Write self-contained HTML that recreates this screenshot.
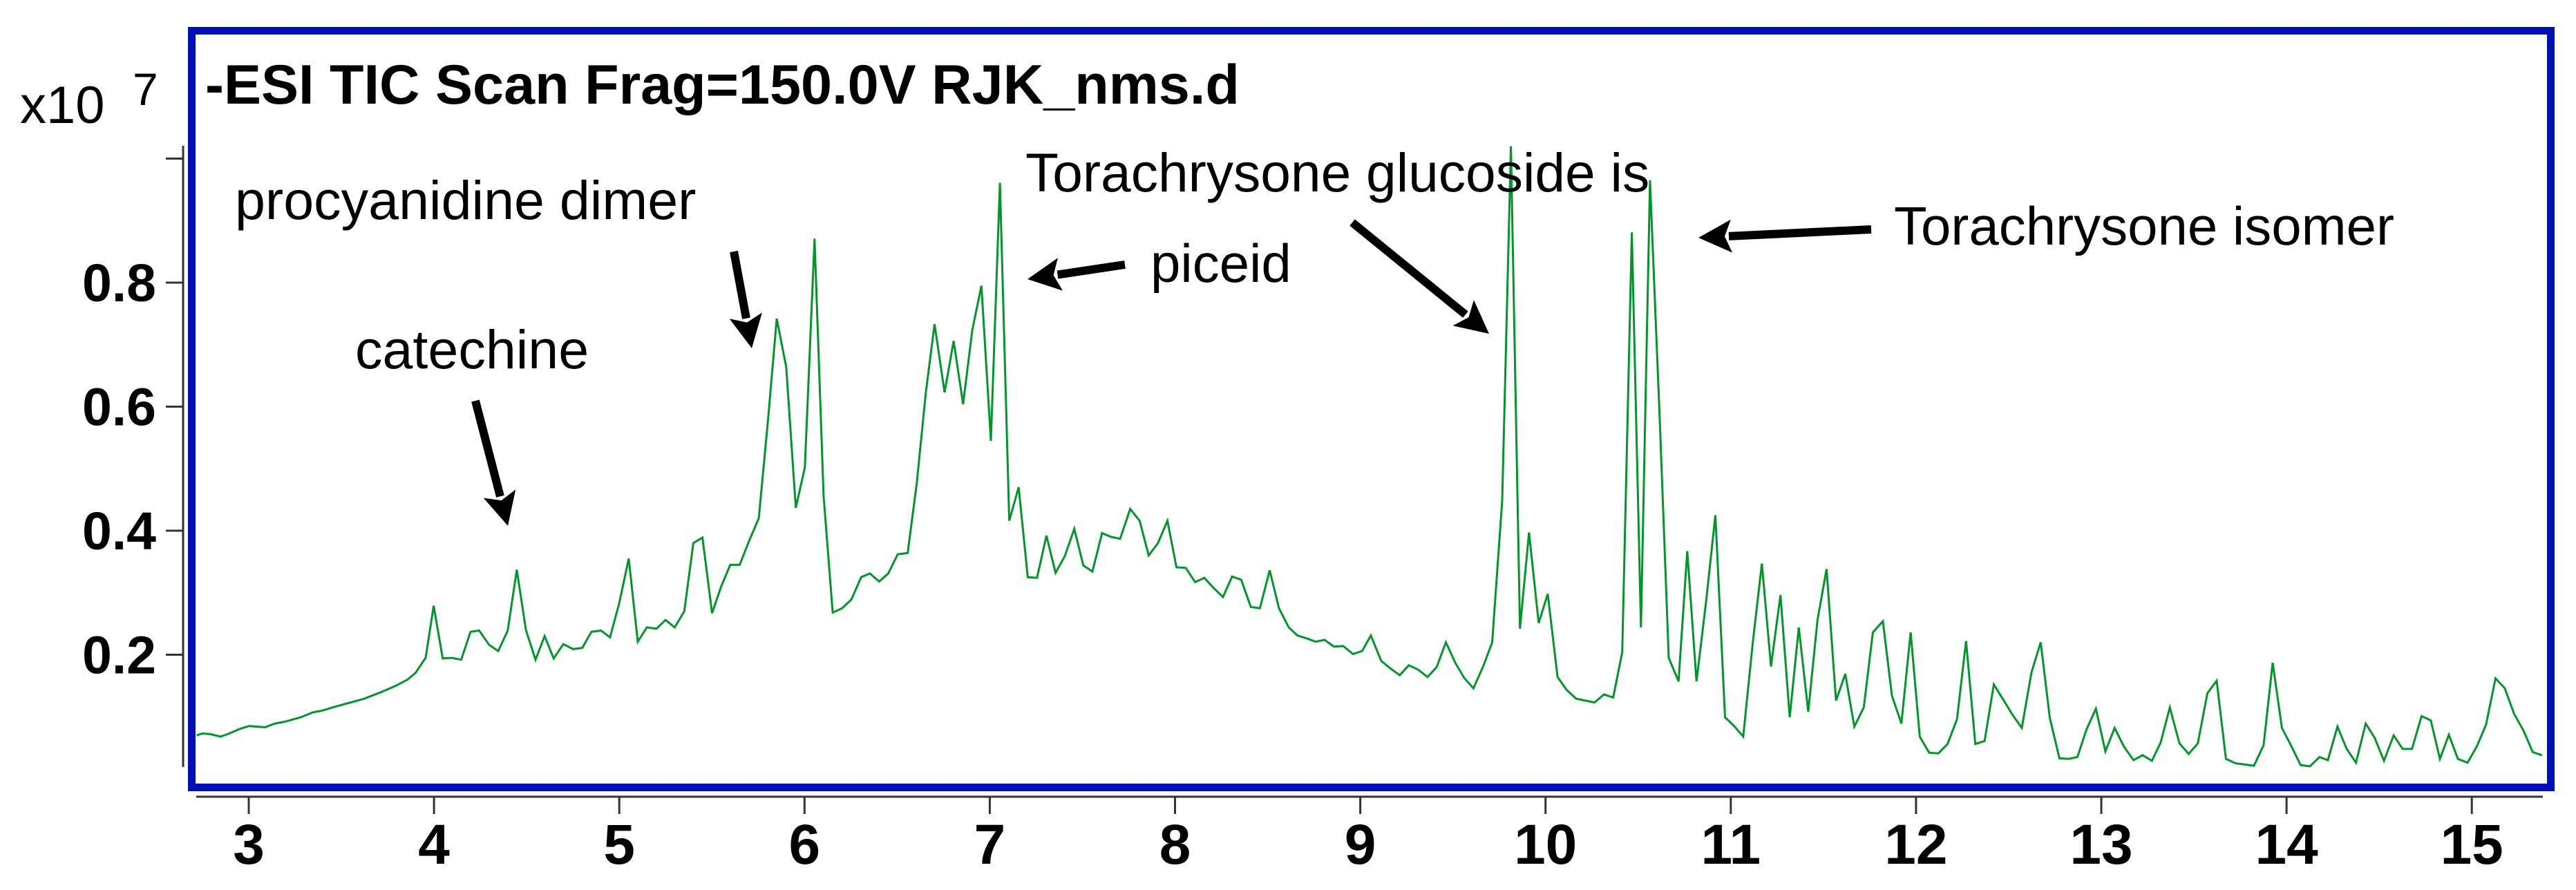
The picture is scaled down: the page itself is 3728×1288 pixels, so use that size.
<!DOCTYPE html>
<html><head><meta charset="utf-8"><style>
html,body{margin:0;padding:0;background:#fff;}
svg{display:block;}
text{font-family:"Liberation Sans",Arial,sans-serif;fill:#000;}
</style></head><body>
<svg id="chart" width="3728" height="1288" viewBox="0 0 3728 1288" xmlns="http://www.w3.org/2000/svg">
<rect x="0" y="0" width="3728" height="1288" fill="#fff"/>
<rect x="277.5" y="44.5" width="3414" height="1095" fill="none" stroke="#0010b4" stroke-width="11"/>
<g id="axes"></g>
<g id="trace"></g>
<text x="29" y="178" font-size="76">x10</text>
<text x="192" y="152" font-size="66">7</text>
<text x="297" y="150" font-size="81" font-weight="bold">-ESI TIC Scan Frag=150.0V RJK_nms.d</text>
<text x="340" y="317" font-size="79">procyanidine dimer</text>
<text x="514" y="533" font-size="79">catechine</text>
<text x="1665" y="408" font-size="78">piceid</text>
<text x="1484" y="277" font-size="78.5">Torachrysone glucoside is</text>
<text x="2741" y="354" font-size="78">Torachrysone isomer</text>
<g id="arrows"></g>
</svg>
<script>
const times = [2.719,2.749,2.792,2.848,2.895,2.948,3.002,3.088,3.141,3.195,3.280,3.345,3.398,3.452,3.537,3.623,3.709,3.794,3.858,3.901,3.955,3.998,4.047,4.094,4.147,4.197,4.244,4.297,4.347,4.398,4.447,4.496,4.548,4.597,4.646,4.698,4.751,4.800,4.850,4.901,4.950,4.999,5.051,5.100,5.149,5.201,5.250,5.299,5.351,5.400,5.449,5.501,5.550,5.599,5.650,5.700,5.753,5.802,
5.850,5.901,5.953,6.002,6.054,6.103,6.152,6.203,6.253,6.306,6.353,6.403,6.452,6.503,6.557,6.606,6.655,6.702,6.756,6.805,6.856,6.906,6.955,7.006,7.055,7.105,7.156,7.205,7.255,7.306,7.355,7.405,7.456,7.505,7.554,7.606,7.655,7.704,7.758,7.809,7.858,7.908,7.959,8.008,8.058,8.109,8.158,8.207,8.259,8.308,8.357,8.409,8.458,8.511,8.561,8.614,8.661,8.715,8.758,8.807,8.858,8.908,8.961,9.010,9.057,
9.113,9.162,9.213,9.262,9.312,9.363,9.412,9.462,9.513,9.562,9.611,9.663,9.712,9.766,9.813,9.862,9.911,9.963,10.012,10.065,10.115,10.166,10.215,10.264,10.316,10.365,10.414,10.466,10.515,10.564,10.618,10.665,10.718,10.765,10.815,10.868,10.917,10.969,11.018,11.067,11.119,11.168,11.217,11.268,11.318,11.367,11.418,11.468,11.517,11.568,11.618,11.667,11.718,11.767,11.821,11.870,11.921,11.971,12.020,12.071,12.121,12.170,12.221,12.270,
12.320,12.370,12.420,12.472,12.521,12.571,12.623,12.673,12.722,12.774,12.824,12.871,12.921,12.971,13.022,13.072,13.122,13.174,13.223,13.273,13.320,13.370,13.422,13.472,13.521,13.573,13.623,13.673,13.724,13.774,13.824,13.876,13.925,13.975,14.027,14.076,14.126,14.178,14.223,14.275,14.325,14.375,14.427,14.476,14.526,14.578,14.627,14.677,14.729,14.779,14.828,14.876,14.925,14.977,15.027,15.077,15.128,15.178,15.228,15.280,15.329,15.379];
const intensities = [0.070,0.073,0.072,0.068,0.073,0.080,0.085,0.083,0.089,0.092,0.099,0.107,0.110,0.115,0.122,0.129,0.139,0.150,0.160,0.171,0.195,0.279,0.194,0.195,0.192,0.237,0.239,0.216,0.206,0.239,0.337,0.240,0.192,0.230,0.194,0.217,0.209,0.211,0.237,0.239,0.228,0.282,0.355,0.221,0.244,0.242,0.256,0.244,0.270,0.380,0.389,0.267,0.310,0.345,0.345,0.383,0.420,0.575,
0.742,0.664,0.437,0.502,0.871,0.456,0.268,0.275,0.289,0.325,0.331,0.318,0.331,0.362,0.364,0.477,0.623,0.733,0.623,0.706,0.604,0.724,0.795,0.545,0.961,0.416,0.470,0.325,0.324,0.392,0.332,0.359,0.403,0.344,0.334,0.396,0.390,0.387,0.435,0.416,0.360,0.380,0.416,0.341,0.340,0.317,0.324,0.308,0.293,0.326,0.321,0.277,0.275,0.336,0.275,0.244,0.231,0.226,0.221,0.224,0.213,0.214,0.201,0.206,0.231,
0.190,0.178,0.167,0.183,0.176,0.164,0.180,0.220,0.187,0.162,0.146,0.181,0.220,0.449,1.020,0.242,0.397,0.251,0.298,0.164,0.143,0.129,0.126,0.123,0.136,0.131,0.204,0.881,0.244,0.965,0.568,0.195,0.157,0.367,0.157,0.289,0.425,0.099,0.085,0.068,0.220,0.347,0.181,0.296,0.099,0.244,0.108,0.256,0.338,0.126,0.169,0.084,0.115,0.236,0.254,0.134,0.089,0.236,0.068,0.042,0.041,0.056,0.096,0.222,
0.056,0.061,0.152,0.127,0.103,0.082,0.171,0.220,0.098,0.033,0.032,0.035,0.080,0.113,0.044,0.082,0.052,0.030,0.038,0.029,0.058,0.115,0.057,0.040,0.057,0.138,0.158,0.032,0.025,0.023,0.021,0.054,0.187,0.082,0.052,0.022,0.020,0.035,0.030,0.084,0.048,0.026,0.089,0.066,0.029,0.070,0.048,0.048,0.101,0.094,0.032,0.071,0.032,0.026,0.052,0.087,0.162,0.146,0.105,0.077,0.043,0.038];
const xTicks = [3,4,5,6,7,8,9,10,11,12,13,14,15];
const xTickLabels = ["3","4","5","6","7","8","9","10","11","12","13","14","15"];
const yTicks = [0.2,0.4,0.6,0.8,1.0];
const yTickLabels = ["0.2","0.4","0.6","0.8",""];

const NS = "http://www.w3.org/2000/svg";
function X(t){ return 360 + (t - 3) * 268.1; }
function Y(v){ return 1127 - v * 897.5; }
function mk(tag, attrs, parent){
  const e = document.createElementNS(NS, tag);
  for (const k in attrs) e.setAttribute(k, attrs[k]);
  parent.appendChild(e);
  return e;
}
const axes = document.getElementById('axes');
let yl = mk('line', {x1:265,y1:211,x2:265,y2:1110,stroke:'#333','stroke-width':3}, axes);


let xl = mk('line', {x1:284,y1:1153,x2:3680,y2:1153,stroke:'#333','stroke-width':3}, axes);


yTicks.forEach((v,i)=>{
  const tk = mk('line', {x1:240,y1:Y(v),x2:265,y2:Y(v),stroke:'#333','stroke-width':3}, axes);
  
  
  if (yTickLabels[i]) {
    const tx = mk('text', {x:226,y:Y(v)+27,'font-size':77,'font-weight':'bold','text-anchor':'end'}, axes);
    tx.textContent = yTickLabels[i];
    
    
  }
});
xTicks.forEach((t,i)=>{
  const tk = mk('line', {x1:X(t),y1:1153,x2:X(t),y2:1178,stroke:'#333','stroke-width':3}, axes);
  
  
  const tx = mk('text', {x:X(t),y:1250,'font-size':82,'font-weight':'bold','text-anchor':'middle'}, axes);
  tx.textContent = xTickLabels[i];
  
  
});
const pts = times.map((t,i)=>X(t).toFixed(1)+','+Y(intensities[i]).toFixed(1)).join(' ');
const pl = mk('polyline', {points:pts,fill:'none',stroke:'#00962a','stroke-width':3,'stroke-linejoin':'miter'}, document.getElementById('trace'));



const arrowsG = document.getElementById('arrows');
function arrow(x1,y1,x2,y2,name){
  const dx=x2-x1, dy=y2-y1, L=Math.hypot(dx,dy), ux=dx/L, uy=dy/L;
  const hl=48, hw=24;
  const bx=x2-ux*hl, by=y2-uy*hl;
  const g = mk('g', {}, arrowsG);
  
  
  mk('line', {x1:x1,y1:y1,x2:bx+ux*4,y2:by+uy*4,stroke:'#000','stroke-width':12}, g);
  mk('polygon', {points:`${x2},${y2} ${bx-uy*hw},${by+ux*hw} ${bx+ux*10},${by+uy*10} ${bx+uy*hw},${by-ux*hw}`,fill:'#000'}, g);
}
arrow(688,580,735,761,'arrow-catechine');
arrow(1062,364,1088,504,'arrow-procyanidine');
arrow(1628,383,1487,404,'arrow-piceid');
arrow(1957,322,2155,483,'arrow-glucoside');
arrow(2708,332,2458,344,'arrow-isomer');
</script>
</body></html>
